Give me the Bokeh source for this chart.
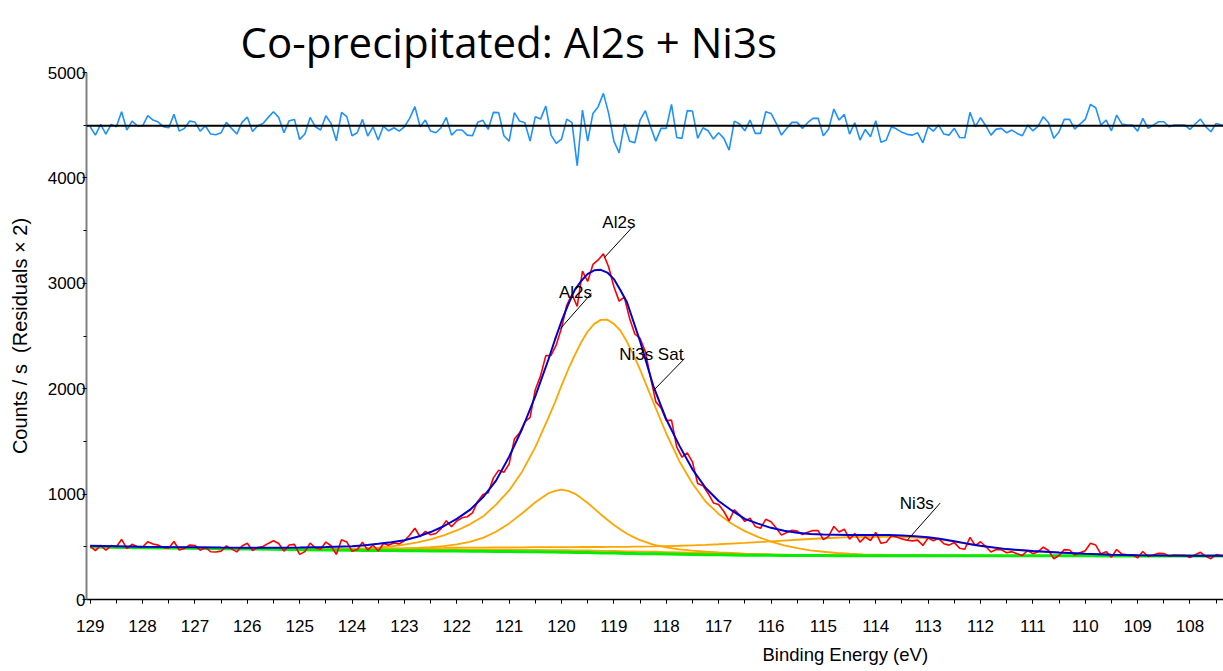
import numpy as np
from bokeh.plotting import figure
from bokeh.models import Range1d, SingleIntervalTicker, Span, Title, ColumnDataSource
from bokeh.embed import file_html
from bokeh.resources import INLINE
from bokeh.core.properties import value

# ---------------- data ----------------
RAW_START_EV = 129.0
RAW_STEP_EV = 0.1

RAW_COUNTS = [
    505, 464, 514, 467, 512, 500, 570, 483, 524, 501,
    498, 547, 526, 516, 492, 487, 550, 470, 483, 517,
    513, 468, 494, 453, 450, 459, 509, 480, 452, 508,
    533, 465, 492, 503, 532, 558, 532, 459, 517, 523,
    428, 454, 535, 491, 476, 545, 510, 428, 566, 546,
    457, 475, 543, 468, 517, 460, 532, 516, 536, 528,
    557, 609, 676, 595,
    647, 614, 626, 673, 748, 690, 745, 775, 785, 822,
    931, 996, 1012, 1154, 1227, 1207, 1287, 1522, 1582, 1685,
    1727, 1993, 2122, 2314, 2315, 2416, 2576, 2792, 2895, 2780,
    3115, 3017, 3179, 3222, 3279, 3154, 2967, 2831, 2868, 2667,
    2519, 2477, 2352, 2105, 1877, 1818, 1698, 1702, 1445, 1350,
    1392, 1305, 1100, 1080, 1006, 916, 901, 835, 747, 852,
    803, 741, 772, 692, 676, 761, 738, 679, 611, 635,
    656, 649, 616, 638, 655, 653,
    568, 599, 693, 640, 667, 572, 626, 544, 594, 560,
    636, 533, 544, 606, 593, 575, 563, 556, 563, 513,
    585, 558, 580, 529, 516, 540, 487, 477, 589, 512,
    548, 503, 451, 474, 472, 444, 454, 434, 418, 465,
    435, 454, 496, 465, 387, 417, 473, 470, 422, 443,
    463, 533, 516, 431, 454, 401, 474, 431, 425, 424,
    395, 455, 408, 422, 438, 437, 413, 421, 420, 420,
    398, 424, 448, 410, 387, 426, 418, 410,
]

RESIDUALS_X2 = [
    4485, 4406, 4508, 4416, 4508, 4485, 4628, 4454, 4539, 4495,
    4492, 4590, 4549, 4530, 4485, 4476, 4603, 4444, 4470, 4539,
    4530, 4444, 4495, 4416, 4409, 4428, 4527, 4470, 4416, 4527,
    4577, 4441, 4495, 4517, 4574, 4628, 4574, 4428, 4543, 4555,
    4365, 4416, 4574, 4485, 4454, 4590, 4517, 4352, 4622, 4581,
    4400, 4428, 4555, 4397, 4485, 4359, 4492, 4447, 4476, 4444,
    4485, 4565, 4676, 4485,
    4549, 4444, 4428, 4476, 4574, 4406, 4454, 4454, 4406, 4400,
    4527, 4546, 4460, 4622, 4619, 4400, 4349, 4619, 4539, 4524,
    4349, 4581, 4558, 4682, 4406, 4327, 4368, 4558, 4524, 4115,
    4644, 4349, 4612, 4676, 4802, 4612, 4349, 4238, 4511, 4349,
    4333, 4549, 4638, 4485, 4349, 4470, 4470, 4698, 4384, 4375,
    4638, 4634, 4375, 4476, 4447, 4368, 4428, 4375, 4264, 4539,
    4511, 4447, 4549, 4422, 4422, 4628, 4612, 4517, 4406, 4470,
    4527, 4527, 4470, 4524, 4565, 4565,
    4400, 4463, 4653, 4549, 4603, 4416, 4524, 4359, 4460, 4390,
    4543, 4337, 4359, 4485, 4463, 4432, 4413, 4406, 4428, 4333,
    4485, 4444, 4501, 4416, 4406, 4470, 4384, 4381, 4622, 4485,
    4571, 4495, 4406, 4463, 4470, 4428, 4454, 4422, 4400, 4501,
    4447, 4492, 4581, 4524, 4375, 4438, 4555, 4555, 4463, 4511,
    4555, 4698, 4666, 4501, 4549, 4447, 4596, 4511, 4501, 4501,
    4444, 4565, 4470, 4501, 4533, 4533, 4485, 4501, 4501, 4501,
    4460, 4511, 4558, 4485, 4438, 4517, 4501, 4485,
]
RESIDUAL_ZERO = 4495

FIT_EV = [
    129.0, 128.5, 128.0, 127.5, 127.0, 126.5, 126.0, 125.5, 125.0, 124.5,
    124.0, 123.75, 123.5, 123.25, 123.0, 122.75, 122.5, 122.25, 122.0, 121.75,
    121.5, 121.25, 121.0, 120.75, 120.5, 120.25, 120.125, 120.0, 119.875, 119.75,
    119.625, 119.5, 119.375, 119.25, 119.125,
    119.0, 118.875, 118.75, 118.625, 118.5, 118.25, 118.0, 117.75, 117.5, 117.25,
    117.0, 116.75,
    116.5, 116.25, 116.0, 115.75, 115.5, 115.25, 115.0, 114.75, 114.5, 114.25,
    114.0, 113.75, 113.5, 113.25, 113.0, 112.75, 112.5, 112.25, 112.0,
    111.5, 111.0, 110.5, 110.0, 109.5, 109.0, 108.5, 108.0, 107.5, 107.3,
]

ENVELOPE = [
    510, 505, 500, 497, 495, 493, 492, 492, 493, 497,
    505, 515, 528, 543, 562, 595, 640, 695, 765, 850,
    970, 1128, 1355, 1620, 1930, 2277, 2465, 2640, 2795, 2935,
    3022, 3090, 3123, 3128, 3102,
    3040, 2935, 2820, 2635, 2450, 2030, 1710, 1460, 1235, 1060,
    935, 845,
    765, 720, 680, 652, 633, 622, 616, 614, 612, 612,
    612, 611, 607, 599, 590, 573, 552, 530, 510,
    478, 459, 445, 433, 425, 421, 418, 416, 415, 415,
]

BACKGROUND = [
    498, 495, 492, 489, 486, 482, 479, 476, 473, 470,
    467, 466, 465, 464, 463, 462, 461, 460, 459, 458,
    457, 456, 455, 453, 452, 450, 450, 449, 448, 447,
    446, 445, 444, 442, 441,
    440, 439, 437, 436, 435, 433, 431, 429, 427, 425,
    424, 423,
    421, 420, 419, 418, 418, 417, 417, 416, 416, 416,
    416, 415, 415, 415, 415, 415, 415, 415, 415,
    414, 414, 414, 414, 413, 413, 413, 413, 412, 412,
]

AL2S_MAIN = [
    498, 495, 492, 489, 486, 483, 480, 478, 477, 477,
    481, 486, 493, 505, 520, 542, 571, 609, 655, 713,
    787, 900, 1035, 1215, 1445, 1725, 1870, 2030, 2180, 2315,
    2440, 2543, 2615, 2653, 2655,
    2615, 2550, 2445, 2320, 2180, 1875, 1575, 1312, 1100, 930,
    812, 718,
    649, 594, 549, 514, 487, 466, 453, 441, 434, 428,
    425, 422, 420, 419, 418, 417, 416, 416, 415,
    414, 414, 414, 414, 413, 413, 413, 413, 412, 412,
]

AL2S_SECOND = [
    498, 495, 492, 490, 487, 483, 481, 479, 477, 476,
    476, 477, 479, 482, 485, 490, 497, 507, 522, 546,
    585, 643, 722, 818, 923, 1008, 1030, 1042, 1030, 1005,
    962, 916, 862, 807, 757,
    707, 664, 624, 592, 563, 521, 494, 476, 463, 453,
    446, 441,
    435, 431, 428, 426, 424, 422, 421, 419, 419, 418,
    418, 417, 416, 416, 416, 415, 415, 415, 415,
    414, 414, 414, 414, 413, 413, 413, 413, 412, 412,
]

NI3S = [
    501, 499, 497, 495, 492, 489, 487, 485, 484, 483,
    482, 483, 483, 484, 485, 486, 488, 489, 491, 492,
    493, 494, 495, 495, 496, 496, 497, 497, 497, 497,
    498, 498, 498, 498, 499,
    499, 500, 500, 501, 502, 504, 507, 510, 514, 518,
    524, 531,
    537, 544, 551, 559, 567, 574, 581, 586, 591, 594,
    596, 595, 593, 588, 580, 568, 550, 528, 507,
    476, 458, 445, 434, 425, 421, 418, 416, 414, 414,
]

NI3S_SAT = [
    500, 497, 495, 492, 490, 486, 484, 482, 480, 478,
    476, 476, 476, 475, 475, 475, 475, 474, 474, 474,
    473, 473, 472, 471, 470, 469, 469, 468, 468, 467,
    466, 465, 464, 462, 461,
    460, 459, 457, 456, 455, 453, 450, 447, 444, 441,
    438, 435,
    431, 428, 426, 423, 422, 420, 419, 418, 417, 417,
    417, 415, 415, 415, 415, 415, 415, 415, 415,
    414, 414, 414, 414, 413, 413, 413, 413, 412, 412,
]

X_TICK_STEP = 1
Y_TICK_STEP = 1000

LABEL_TEXT = ["Al2s", "Al2s", "Ni3s Sat", "Ni3s"]
LABEL_EV = [119.22, 120.05, 118.90, 113.54]
LABEL_COUNTS = [3574, 2910, 2324, 915]
LEADER_EV0 = [118.63, 119.43, 117.65, 112.77]
LEADER_C0 = [3542, 2903, 2286, 915]
LEADER_EV1 = [119.18, 120.02, 118.24, 113.39]
LEADER_C1 = [3245, 2571, 1985, 567]

# ---------------- figure ----------------
raw_ev = np.round(RAW_START_EV - RAW_STEP_EV * np.arange(len(RAW_COUNTS)), 2)

p = figure(width=1223, height=671, output_backend="svg", toolbar_location=None,
           x_range=Range1d(129.07, 107.36), y_range=Range1d(0, 5000),
           min_border_left=86, min_border_right=0, min_border_top=72,
           min_border_bottom=72)
p.outline_line_color = None
p.grid.visible = False
p.background_fill_color = "white"
p.border_fill_color = "white"

p.title.text = "Co-precipitated: Al2s + Ni3s"
p.title.text_font = "Open Sans"
p.title.text_font_size = "42px"
p.title.text_font_style = "normal"
p.title.text_color = "black"
p.title.align = "left"
p.title.offset = 154
p.title.standoff = 6

font = "Liberation Sans"

fit_src = ColumnDataSource(dict(ev=FIT_EV, env=ENVELOPE, bg=BACKGROUND,
                                a1=AL2S_MAIN, a2=AL2S_SECOND, n1=NI3S, n2=NI3S_SAT))
raw_src = ColumnDataSource(dict(ev=raw_ev, c=RAW_COUNTS, r=RESIDUALS_X2))

orange = "#FFA500"
for col in ["n2", "n1", "a2", "a1"]:
    p.line("ev", col, source=fit_src, line_color=orange, line_width=1.8)
p.line("ev", "bg", source=fit_src, line_color="#00EE00", line_width=3)
p.line("ev", "c", source=raw_src, line_color="#FF0000", line_width=1.6)
p.line("ev", "env", source=fit_src, line_color="#0000D0", line_width=2)
p.line("ev", "r", source=raw_src, line_color="#1E90FF", line_width=1.6)
p.add_layout(Span(location=RESIDUAL_ZERO, dimension="width",
                  line_color="black", line_width=2))

p.segment(x0=LEADER_EV0, y0=LEADER_C0, x1=LEADER_EV1, y1=LEADER_C1,
          line_color="black", line_width=1)
p.text(x=LABEL_EV, y=LABEL_COUNTS, text=LABEL_TEXT,
       text_font=value(font), text_font_size="17px", text_color="black",
       text_align="left", text_baseline="alphabetic")

# axes
p.xaxis.ticker = SingleIntervalTicker(interval=X_TICK_STEP, num_minor_ticks=2)
p.yaxis.ticker = SingleIntervalTicker(interval=Y_TICK_STEP, num_minor_ticks=2)
for ax in (p.xaxis, p.yaxis):
    ax.major_label_text_font = font
    ax.major_label_text_font_size = "17px"
    ax.major_label_text_color = "black"
    ax.major_tick_line_color = "black"
    ax.minor_tick_line_color = "black"
    ax.major_tick_in = 0
    ax.minor_tick_in = 0
p.xaxis.axis_line_color = "black"
p.xaxis.axis_line_width = 1.5
p.xaxis.major_tick_out = 4
p.xaxis.minor_tick_out = 4
p.xaxis.major_label_standoff = 16
p.yaxis.axis_line_color = "#808080"
p.yaxis.axis_line_width = 2
p.yaxis.major_tick_out = 4
p.yaxis.minor_tick_out = 3
p.yaxis.major_label_standoff = -3
p.yaxis.axis_label = "Counts / s\u00a0\u00a0(Residuals \u00d7 2)"
p.yaxis.axis_label_text_font = font
p.yaxis.axis_label_text_font_size = "20px"
p.yaxis.axis_label_text_font_style = "normal"
p.yaxis.axis_label_text_color = "black"
p.yaxis.axis_label_standoff = 14

xlabel = Title(text="Binding Energy (eV)", align="left", offset=676,
               text_font=font, text_font_size="18.5px", text_font_style="normal",
               text_color="black", standoff=14)
p.add_layout(xlabel, "below")

open("out.html", "w").write(file_html(p, INLINE))
